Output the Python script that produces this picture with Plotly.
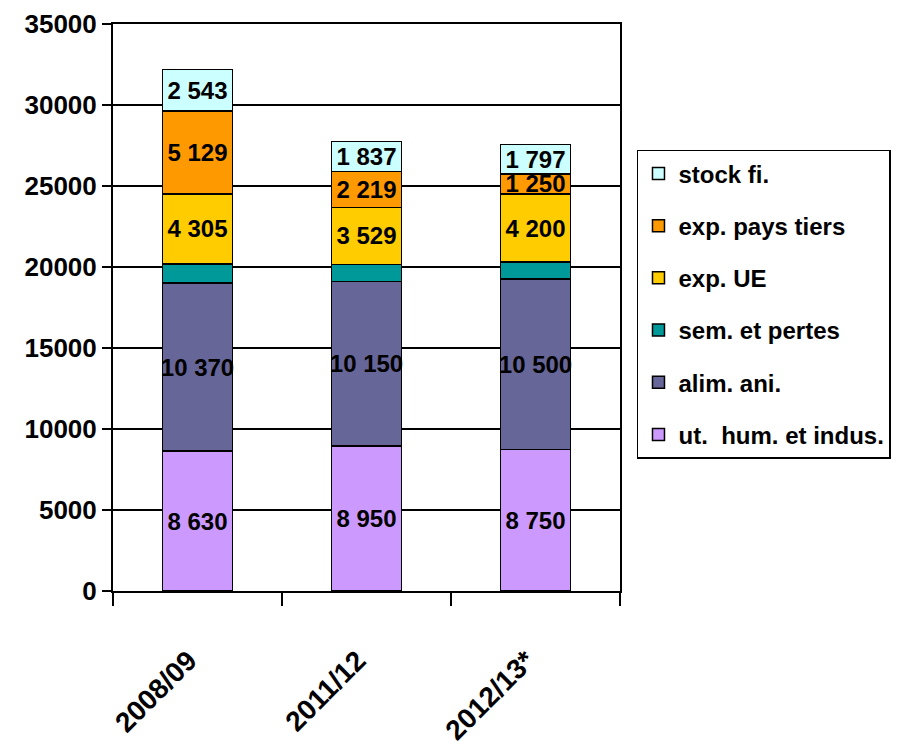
import plotly.graph_objects as go

categories = ["2008/09", "2011/12", "2012/13*"]
ut_hum = [8630, 8950, 8750]
alim_ani = [10370, 10150, 10500]
sem_pertes = [1200, 1050, 1050]
exp_ue = [4305, 3529, 4200]
exp_pays_tiers = [5129, 2219, 1250]
stock_fi = [2543, 1837, 1797]

series = [
    ("ut.  hum. et indus.", ut_hum, "#CC99FF", True),
    ("alim. ani.", alim_ani, "#666699", True),
    ("sem. et pertes", sem_pertes, "#009999", False),
    ("exp. UE", exp_ue, "#FFCC00", True),
    ("exp. pays tiers", exp_pays_tiers, "#FF9900", True),
    ("stock fi.", stock_fi, "#CCFFFF", True),
]

FONT = "Liberation Sans, Arial, sans-serif"

def fmt(v):
    return f"{v:,}".replace(",", " ")

fig = go.Figure()
n = len(series)
for i, (name, vals, color, show_text) in enumerate(series):
    fig.add_trace(go.Bar(
        name=name,
        x=categories,
        y=vals,
        marker=dict(color=color, line=dict(color="black", width=1.5)),
        text=[fmt(v) for v in vals] if show_text else None,
        textposition="inside" if show_text else "none",
        insidetextanchor="middle",
        textangle=0,
        constraintext="none",
        textfont=dict(family=FONT, size=24, color="black", weight="bold"),
        legendgroup=f"g{i}",
        legendrank=n - i,
        hoverinfo="skip",
    ))

fig.update_layout(
    barmode="stack",
    bargap=0.586,
    width=895,
    height=741,
    margin=dict(l=105, r=283, t=16, b=158),
    paper_bgcolor="white",
    plot_bgcolor="white",
    font=dict(family=FONT, color="black", weight="bold"),
    legend=dict(
        x=1.0335, y=0.778, xanchor="left", yanchor="top",
        bordercolor="black", borderwidth=1.5,
        font=dict(family=FONT, size=24, color="black", weight="bold"),
        traceorder="grouped",
        tracegroupgap=18,
        itemwidth=30,
    ),
    xaxis=dict(
        showline=True, linecolor="black", linewidth=2, mirror=True,
        ticks="outside", ticklen=13, tickwidth=1.5, tickcolor="black",
        tickson="boundaries",
        tickangle=-45,
        ticklabelstandoff=40,
        ticklabelshift=-9,
        tickfont=dict(family=FONT, size=28, color="black", weight="bold"),
        showgrid=False,
        automargin=False,
    ),
    yaxis=dict(
        range=[0, 35000], dtick=5000, tickformat="d",
        showline=True, linecolor="black", linewidth=2, mirror=True,
        ticks="outside", ticklen=9, tickwidth=1.5, tickcolor="black",
        showgrid=True, gridcolor="black", gridwidth=1.5,
        tickfont=dict(family=FONT, size=26, color="black", weight="bold"),
        zeroline=False,
        automargin=False,
    ),
)

fig.write_html("out.html")
